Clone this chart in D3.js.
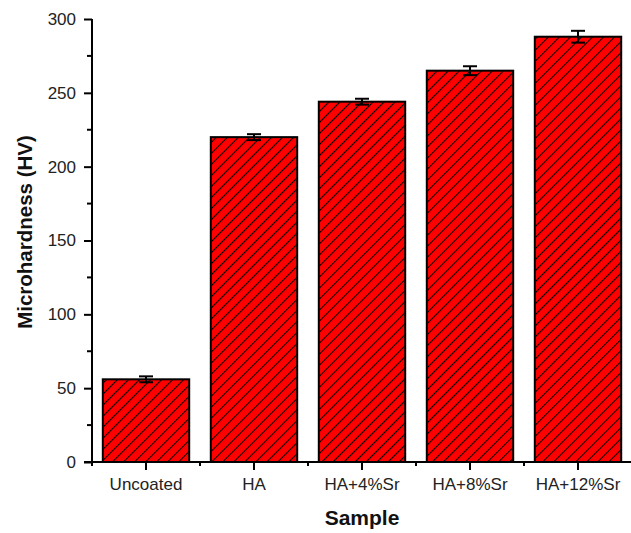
<!DOCTYPE html>
<html>
<head>
<meta charset="utf-8">
<script src="https://cdn.jsdelivr.net/npm/d3@7"></script>
<style>
  body { margin: 0; background: #fff; }
  svg { font-family: Arial, "Liberation Sans", sans-serif; }
</style>
</head>
<body>
<svg id="chart" width="631" height="533"></svg>
<script>
// Chart data
const samples = ['Uncoated', 'HA', 'HA+4%Sr', 'HA+8%Sr', 'HA+12%Sr'];
const hardness = [56, 220, 244, 265, 288];
const errors = [2, 2, 2, 3, 4];
const yTicks = [0, 50, 100, 150, 200, 250, 300];

const svg = d3.select('#chart');
const plotLeft = 92, plotRight = 632, plotTop = 19, plotBottom = 462;

const x = d3.scaleBand().domain(samples).range([plotLeft, plotRight]).paddingInner(0.2).paddingOuter(0.1);
const y = d3.scaleLinear().domain([0, 300]).range([plotBottom, plotTop]);

// Hatch pattern
const defs = svg.append('defs');
const pat = defs.append('pattern')
  .attr('id', 'hatch')
  .attr('patternUnits', 'userSpaceOnUse')
  .attr('width', 7.8)
  .attr('height', 10)
  .attr('patternTransform', 'rotate(45)');
pat.append('rect').attr('width', 7.8).attr('height', 10).attr('fill', '#ff0000');
pat.append('line')
  .attr('x1', 0.5).attr('y1', 0).attr('x2', 0.5).attr('y2', 10)
  .attr('stroke', '#000').attr('stroke-width', 1.1);

// Bars
const data = samples.map((s, i) => ({ s, v: hardness[i], e: errors[i] }));
svg.append('g').selectAll('rect')
  .data(data)
  .join('rect')
  .attr('x', d => x(d.s))
  .attr('y', d => y(d.v))
  .attr('width', x.bandwidth())
  .attr('height', d => y(0) - y(d.v))
  .attr('fill', 'url(#hatch)')
  .attr('stroke', '#000')
  .attr('stroke-width', 2);

// Error bars
const eb = svg.append('g').attr('stroke', '#000').attr('stroke-width', 2);
data.forEach(d => {
  const cx = x(d.s) + x.bandwidth() / 2;
  eb.append('line').attr('x1', cx).attr('x2', cx).attr('y1', y(d.v + d.e)).attr('y2', y(d.v - d.e));
  eb.append('line').attr('x1', cx - 7).attr('x2', cx + 7).attr('y1', y(d.v + d.e)).attr('y2', y(d.v + d.e));
  eb.append('line').attr('x1', cx - 7).attr('x2', cx + 7).attr('y1', y(d.v - d.e)).attr('y2', y(d.v - d.e));
});

// Y axis
const yAxis = svg.append('g').attr('transform', `translate(${plotLeft},0)`)
  .call(d3.axisLeft(y).tickValues(yTicks).tickSize(8).tickPadding(8));
yAxis.append('g').selectAll('line')
  .data(d3.range(25, 300, 50))
  .join('line')
  .attr('x1', 0).attr('x2', -5)
  .attr('y1', d => y(d)).attr('y2', d => y(d))
  .attr('stroke', '#000').attr('stroke-width', 2);
yAxis.select('.domain').attr('d', `M0,${plotBottom + 1}V${plotTop}`);

// X axis
const xAxis = svg.append('g').attr('transform', `translate(0,${plotBottom})`)
  .call(d3.axisBottom(x).tickSize(8).tickPadding(8));
xAxis.select('.domain').attr('d', `M${plotLeft - 8},0H${plotRight}`);
const step = x.step();
xAxis.append('g').selectAll('line')
  .data(d3.range(samples.length + 1))
  .join('line')
  .attr('x1', i => plotLeft + i * step).attr('x2', i => plotLeft + i * step)
  .attr('y1', 0).attr('y2', 4)
  .attr('stroke', '#000').attr('stroke-width', 2);

svg.selectAll('.domain').attr('stroke', '#000').attr('stroke-width', 2).attr('fill', 'none');
svg.selectAll('.tick line').attr('stroke', '#000').attr('stroke-width', 2);
svg.selectAll('.tick text').attr('font-size', 17).attr('fill', '#222')
  .attr('font-family', 'Arial, "Liberation Sans", sans-serif');

// Titles
svg.append('text')
  .attr('x', (plotLeft + plotRight) / 2)
  .attr('y', 525)
  .attr('text-anchor', 'middle')
  .attr('font-size', 21)
  .attr('font-weight', 'bold')
  .attr('fill', '#111')
  .text('Sample');

svg.append('text')
  .attr('transform', 'translate(32,232) rotate(-90)')
  .attr('text-anchor', 'middle')
  .attr('font-size', 20.5)
  .attr('font-weight', 'bold')
  .attr('fill', '#111')
  .text('Microhardness (HV)');
</script>
</body>
</html>
